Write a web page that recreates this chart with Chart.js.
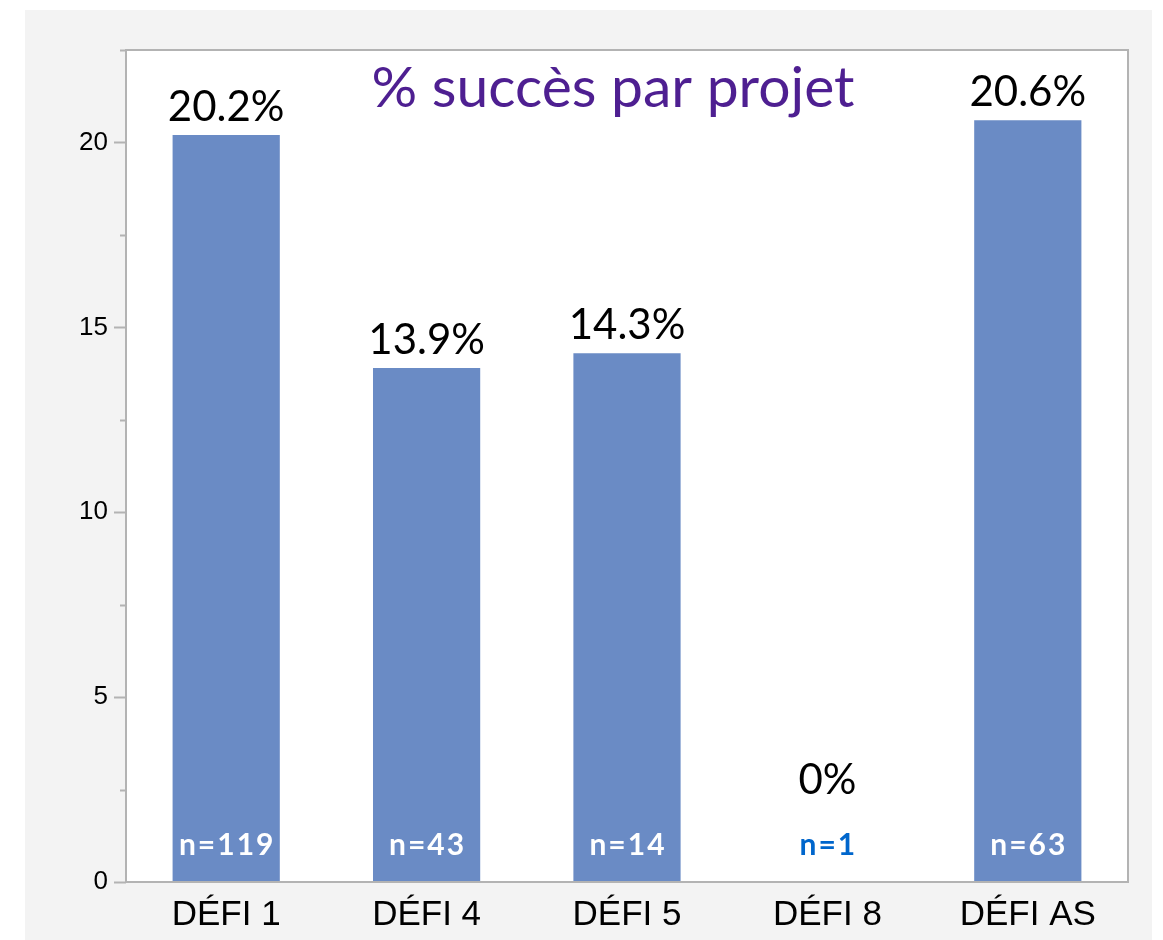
<!DOCTYPE html>
<html>
<head>
<meta charset="utf-8">
<script src="https://cdn.jsdelivr.net/npm/chart.js@4/dist/chart.umd.min.js"></script>
<style>
  html, body { margin: 0; padding: 0; background: #ffffff; }
  #wrap {
    position: absolute;
    left: 25px;
    top: 10px;
    width: 1127px;
    height: 930px;
    background: #f3f3f3;
  }
</style>
</head>
<body>
<div id="wrap"><canvas id="chart" width="1127" height="930"></canvas></div>
<script>
  const categories = ['DÉFI 1', 'DÉFI 4', 'DÉFI 5', 'DÉFI 8', 'DÉFI AS'];
  const successPct = [20.2, 13.9, 14.3, 0, 20.6];
  const valueLabels = ['20.2%', '13.9%', '14.3%', '0%', '20.6%'];
  const countLabels = ['n=119', 'n=43', 'n=14', 'n=1', 'n=63'];
  const chartTitle = '% succès par projet';

  const barColor = '#6a8bc5';
  const axisColor = '#b3b3b3';

  // frame, minor/major ticks, title and bar annotations
  const decorations = {
    id: 'decorations',
    beforeDatasetsDraw(chart) {
      const { ctx, chartArea } = chart;
      ctx.save();
      ctx.fillStyle = '#ffffff';
      ctx.fillRect(chartArea.left, chartArea.top,
        chartArea.right - chartArea.left, chartArea.bottom - chartArea.top);
      ctx.restore();
    },
    afterDatasetsDraw(chart) {
      const { ctx, chartArea } = chart;
      const yScale = chart.scales.y;
      const meta = chart.getDatasetMeta(0);

      ctx.save();
      ctx.strokeStyle = axisColor;
      ctx.lineWidth = 2;
      ctx.strokeRect(chartArea.left, chartArea.top,
        chartArea.right - chartArea.left, chartArea.bottom - chartArea.top);

      yScale.ticks.forEach((tick) => {
        const y = Math.round(yScale.getPixelForValue(tick.value)) + 0.5;
        const len = tick.value % 5 === 0 ? 12 : 6;
        ctx.beginPath();
        ctx.moveTo(chartArea.left - len, y);
        ctx.lineTo(chartArea.left, y);
        ctx.stroke();
      });

      ctx.fillStyle = '#4e1f91';
      ctx.font = '57px Lato';
      ctx.textAlign = 'center';
      ctx.textBaseline = 'alphabetic';
      ctx.fillText(chartTitle, 588, 97);

      const floorPix = yScale.getPixelForValue(2);
      meta.data.forEach((bar, i) => {
        ctx.fillStyle = '#000000';
        ctx.font = '42px Lato';
        ctx.letterSpacing = '0px';
        ctx.fillText(valueLabels[i], bar.x, Math.min(bar.y, floorPix) - 14);

        ctx.fillStyle = successPct[i] > 0 ? '#ffffff' : '#0066cc';
        ctx.font = 'bold 30px Lato';
        ctx.letterSpacing = '2px';
        ctx.fillText(countLabels[i], bar.x + 1, chartArea.bottom - 27);
      });
      ctx.restore();
    },
  };

  new Chart(document.getElementById('chart'), {
    type: 'bar',
    data: {
      labels: categories,
      datasets: [
        {
          data: successPct,
          backgroundColor: barColor,
          borderWidth: 0,
          barPercentage: 0.535,
          categoryPercentage: 1,
        },
      ],
    },
    options: {
      responsive: false,
      animation: false,
      layout: { padding: { top: 40, right: 24, left: 0, bottom: 0 } },
      plugins: {
        legend: { display: false },
        tooltip: { enabled: false },
      },
      scales: {
        x: {
          grid: { display: false, drawTicks: false },
          border: { display: false },
          ticks: {
            color: '#000000',
            padding: 12,
            font: { family: 'Liberation Sans', size: 35 },
          },
          afterFit(scale) { scale.height = 58; },
        },
        y: {
          min: 0,
          max: 22.5,
          grid: { display: false, drawTicks: false },
          border: { display: false },
          ticks: {
            stepSize: 2.5,
            color: '#000000',
            padding: 18,
            font: { family: 'Liberation Sans', size: 26 },
            callback: (value) => (value % 5 === 0 ? value : ''),
          },
          afterFit(scale) { scale.width = 101; },
        },
      },
    },
    plugins: [decorations],
  });
</script>
</body>
</html>
